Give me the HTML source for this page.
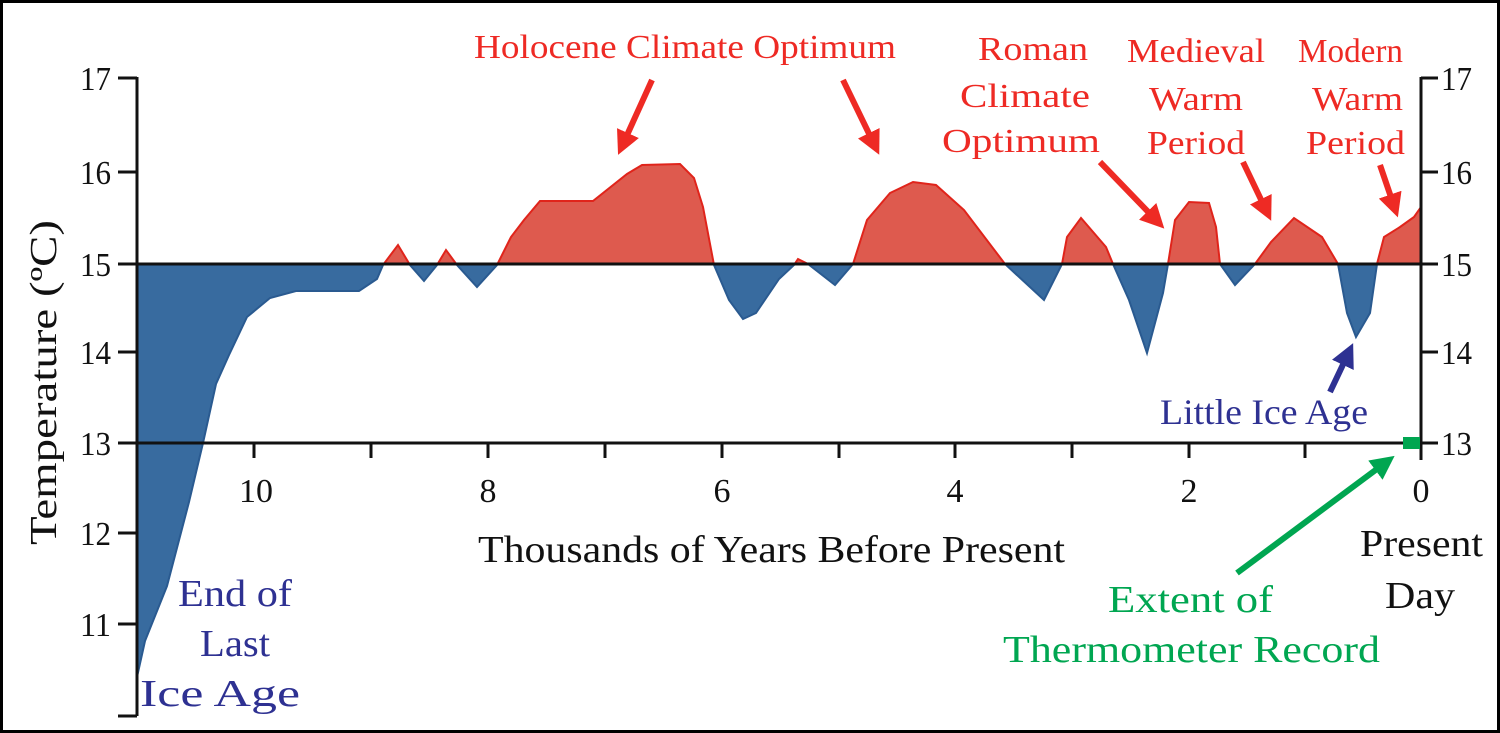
<!DOCTYPE html>
<html><head><meta charset="utf-8"><style>
html,body{margin:0;padding:0;background:#fff;}
svg{display:block;}
text{font-family:"Liberation Serif","Times New Roman",serif;}
</style></head><body>
<svg width="1500" height="733" viewBox="0 0 1500 733" xmlns="http://www.w3.org/2000/svg">
<defs>
<clipPath id="up"><rect x="0" y="0" width="1500" height="264"/></clipPath>
<clipPath id="dn"><rect x="0" y="264" width="1500" height="500"/></clipPath>
<marker id="ar" markerWidth="4" markerHeight="4" refX="2" refY="2" orient="auto" markerUnits="strokeWidth"><path d="M0,0 L4,2 L0,4 z" fill="#ee2a24"/></marker>
<marker id="ab" markerWidth="4" markerHeight="4" refX="2" refY="2" orient="auto" markerUnits="strokeWidth"><path d="M0,0 L4,2 L0,4 z" fill="#2e3192"/></marker>
<marker id="ag" markerWidth="4" markerHeight="4" refX="2" refY="2" orient="auto" markerUnits="strokeWidth"><path d="M0,0 L4,2 L0,4 z" fill="#00a651"/></marker>
<path id="curve" d="M137,264 L137,677 L145,641 L167,586 L189,502 L203,443 L216,384 L229,355 L247,317 L270,298 L296,291 L359,291 L377,279 L383,265 L398,245 L410,265 L424,281 L437,265 L446,250 L457,265 L477,287 L497,265 L511,237 L524,220 L540,201 L593,201 L627,174 L642,165 L680,164 L694,178 L703,207 L714,265 L729,300 L743,319 L756,313 L779,279 L794,265 L798,259 L808,264 L835,285 L853,264 L867,220 L890,193 L913,182 L936,185 L964,210 L1005,264 L1044,300 L1062,264 L1067,237 L1081,218 L1106,247 L1113,264 L1129,300 L1147,353 L1163,293 L1168,264 L1175,220 L1189,202 L1209,203 L1216,227 L1220,264 L1235,285 L1255,264 L1271,242 L1294,218 L1322,237 L1338,264 L1347,313 L1356,337 L1370,313 L1377,264 L1384,237 L1400,227 L1414,217 L1421,207 L1421,264 Z"/>
</defs>
<rect x="1.5" y="1.5" width="1497" height="730" fill="#fff" stroke="#000" stroke-width="3"/>
<use href="#curve" clip-path="url(#up)" fill="#de5a4e" stroke="#e0241b" stroke-width="2"/>
<use href="#curve" clip-path="url(#dn)" fill="#386b9f" stroke="#2a5a90" stroke-width="2"/>
<g stroke="#111" stroke-width="3" fill="none">
<line x1="137" y1="77" x2="137" y2="716"/>
<line x1="137" y1="264" x2="1421" y2="264"/>
<line x1="137" y1="443" x2="1421" y2="443"/>
<line x1="1421" y1="77" x2="1421" y2="460"/>
<path d="M118,78H137 M118,172H137 M118,264H137 M118,352H137 M118,443H137 M118,533H137 M118,624H137 M118,716H137"/>
<path d="M1421,78H1438 M1421,172H1438 M1421,264H1438 M1421,352H1438 M1421,443H1438"/>
<path d="M254,443V458 M371,443V458 M488,443V458 M605,443V458 M722,443V458 M839,443V458 M955,443V458 M1072,443V458 M1189,443V458 M1305,443V458"/>
</g>
<g font-size="34" fill="#111" text-anchor="end">
<text x="111" y="90" textLength="31" lengthAdjust="spacingAndGlyphs">17</text><text x="111" y="184" textLength="31" lengthAdjust="spacingAndGlyphs">16</text><text x="111" y="276" textLength="31" lengthAdjust="spacingAndGlyphs">15</text><text x="111" y="364" textLength="31" lengthAdjust="spacingAndGlyphs">14</text><text x="111" y="455" textLength="31" lengthAdjust="spacingAndGlyphs">13</text><text x="111" y="545" textLength="31" lengthAdjust="spacingAndGlyphs">12</text><text x="111" y="636" textLength="31" lengthAdjust="spacingAndGlyphs">11</text>
</g>
<g font-size="34" fill="#111">
<text x="1441" y="90" textLength="31" lengthAdjust="spacingAndGlyphs">17</text><text x="1441" y="184" textLength="31" lengthAdjust="spacingAndGlyphs">16</text><text x="1441" y="276" textLength="31" lengthAdjust="spacingAndGlyphs">15</text><text x="1441" y="364" textLength="31" lengthAdjust="spacingAndGlyphs">14</text><text x="1441" y="455" textLength="31" lengthAdjust="spacingAndGlyphs">13</text>
</g>
<g font-size="34" fill="#111" text-anchor="middle">
<text x="256" y="502">10</text><text x="488" y="502">8</text><text x="722" y="502">6</text><text x="955" y="502">4</text><text x="1189" y="502">2</text><text x="1421" y="502">0</text>
</g>
<text x="478" y="562" font-size="38" fill="#111" textLength="587" lengthAdjust="spacingAndGlyphs">Thousands of Years Before Present</text>
<text transform="translate(56,545) rotate(-90)" font-size="38" fill="#111" textLength="325" lengthAdjust="spacingAndGlyphs">Temperature (ºC)</text>
<g font-size="38" fill="#111">
<text x="1360" y="556" textLength="123" lengthAdjust="spacingAndGlyphs">Present</text><text x="1385" y="608" textLength="70" lengthAdjust="spacingAndGlyphs">Day</text></g>
<g font-size="34" fill="#ee2a24">
<text x="474" y="58" textLength="422" lengthAdjust="spacingAndGlyphs">Holocene Climate Optimum</text>
<text x="978" y="60" textLength="110" lengthAdjust="spacingAndGlyphs">Roman</text><text x="960" y="107" textLength="130" lengthAdjust="spacingAndGlyphs">Climate</text><text x="942" y="152" textLength="158" lengthAdjust="spacingAndGlyphs">Optimum</text>
<text x="1127" y="62" textLength="138" lengthAdjust="spacingAndGlyphs">Medieval</text><text x="1149" y="110" textLength="94" lengthAdjust="spacingAndGlyphs">Warm</text><text x="1147" y="154" textLength="98" lengthAdjust="spacingAndGlyphs">Period</text>
<text x="1298" y="62" textLength="105" lengthAdjust="spacingAndGlyphs">Modern</text><text x="1312" y="110" textLength="91" lengthAdjust="spacingAndGlyphs">Warm</text><text x="1306" y="154" textLength="99" lengthAdjust="spacingAndGlyphs">Period</text>
</g>
<g font-size="38" fill="#2e3192">
<text x="178" y="606" textLength="114" lengthAdjust="spacingAndGlyphs">End of</text><text x="200" y="656" textLength="70" lengthAdjust="spacingAndGlyphs">Last</text><text x="140" y="706" textLength="160" lengthAdjust="spacingAndGlyphs">Ice Age</text>
</g>
<text x="1160" y="424" font-size="36" fill="#2e3192" textLength="208" lengthAdjust="spacingAndGlyphs">Little Ice Age</text>
<g font-size="38" fill="#00a651">
<text x="1108" y="612" textLength="165" lengthAdjust="spacingAndGlyphs">Extent of</text><text x="1003" y="662" textLength="377" lengthAdjust="spacingAndGlyphs">Thermometer Record</text>
</g>
<rect x="1403" y="437" width="17" height="12" fill="#00a651"/>
<g stroke-width="6" fill="none">
<line x1="652" y1="80" x2="623" y2="144" stroke="#ee2a24" marker-end="url(#ar)"/>
<line x1="843" y1="80" x2="874" y2="144" stroke="#ee2a24" marker-end="url(#ar)"/>
<line x1="1100" y1="162" x2="1156" y2="220" stroke="#ee2a24" marker-end="url(#ar)"/>
<line x1="1243" y1="162" x2="1266" y2="210" stroke="#ee2a24" marker-end="url(#ar)"/>
<line x1="1380" y1="165" x2="1394" y2="206" stroke="#ee2a24" marker-end="url(#ar)"/>
<line x1="1330" y1="392" x2="1348" y2="354" stroke="#2e3192" marker-end="url(#ab)"/>
<line x1="1237" y1="573" x2="1385" y2="463" stroke="#00a651" marker-end="url(#ag)"/>
</g>
</svg>
</body></html>
